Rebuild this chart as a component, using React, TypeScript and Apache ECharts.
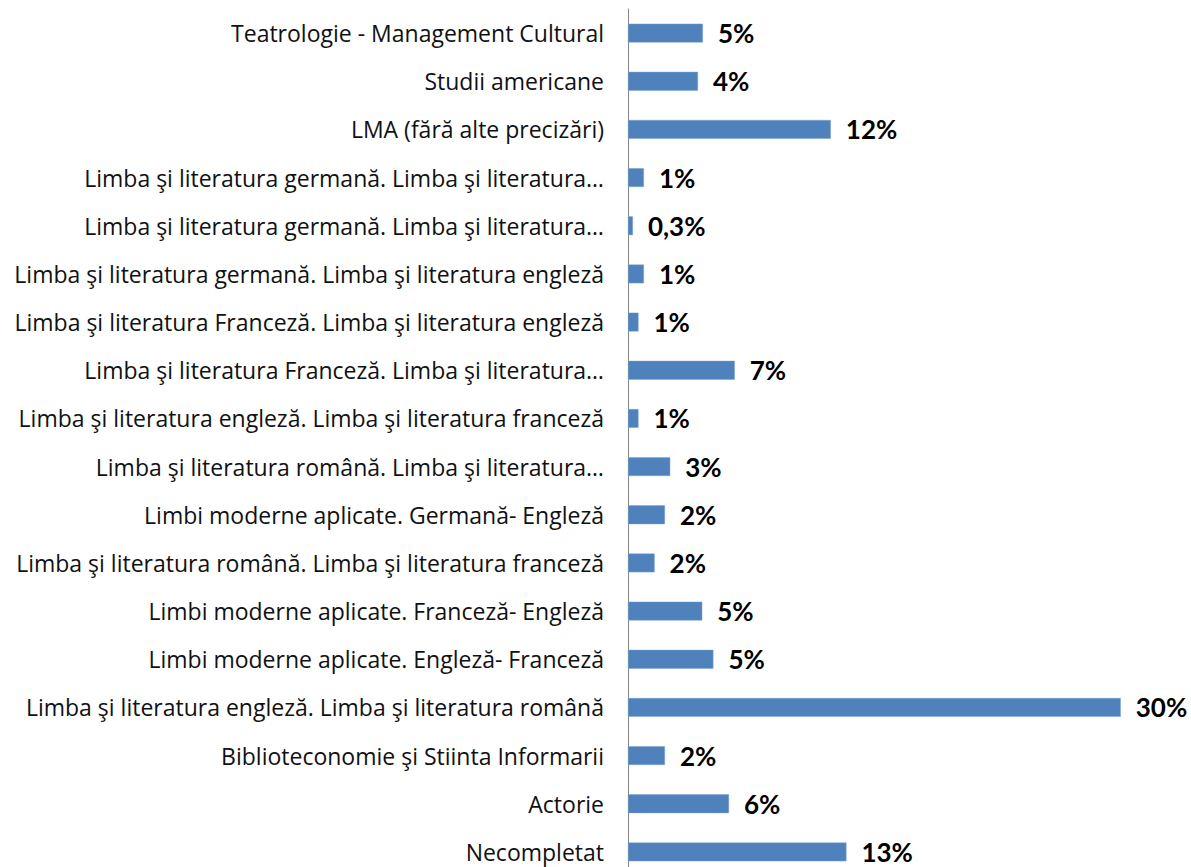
import React, { useEffect, useRef } from "react";
import * as echarts from "echarts";

const categories: string[] = [
  "Teatrologie - Management Cultural",
  "Studii americane",
  "LMA (fără alte precizări)",
  "Limba şi literatura germană. Limba şi literatura…",
  "Limba şi literatura germană. Limba şi literatura…",
  "Limba şi literatura germană. Limba şi literatura engleză",
  "Limba şi literatura Franceză. Limba şi literatura engleză",
  "Limba şi literatura Franceză. Limba şi literatura…",
  "Limba şi literatura engleză. Limba şi literatura franceză",
  "Limba şi literatura română. Limba şi literatura…",
  "Limbi moderne aplicate. Germană- Engleză",
  "Limba şi literatura română. Limba şi literatura franceză",
  "Limbi moderne aplicate. Franceză- Engleză",
  "Limbi moderne aplicate. Engleză- Franceză",
  "Limba şi literatura engleză. Limba şi literatura română",
  "Biblioteconomie şi Stiinta Informarii",
  "Actorie",
  "Necompletat",
];

const values: number[] = [
  4.56, 4.26, 12.35, 0.97, 0.3, 0.97, 0.64, 6.5, 0.64, 2.57, 2.25, 1.62, 4.52,
  5.2, 30, 2.25, 6.15, 13.3,
];

const valueLabels: string[] = [
  "5%", "4%", "12%", "1%", "0,3%", "1%", "1%", "7%", "1%", "3%", "2%", "2%",
  "5%", "5%", "30%", "2%", "6%", "13%",
];

export default function App() {
  const ref = useRef<HTMLDivElement>(null);
  useEffect(() => {
    if (!ref.current) return;
    const chart = echarts.init(ref.current, null, { renderer: "svg" });
    chart.setOption({
      animation: false,
      backgroundColor: "#ffffff",
      grid: { left: 628, width: 542, top: 9, height: 867, containLabel: false },
      xAxis: {
        type: "value",
        min: 0,
        max: 33,
        show: false,
        splitLine: { show: false },
      },
      yAxis: {
        type: "category",
        inverse: true,
        data: categories,
        axisLine: { show: true, lineStyle: { color: "#868686", width: 1 } },
        axisTick: { show: false },
        axisLabel: {
          margin: 24,
          color: "#111111",
          fontFamily: "Open Sans",
          fontSize: 23,
        },
      },
      series: [
        {
          type: "bar",
          data: values,
          barCategoryGap: "61%",
          itemStyle: { color: "#4F81BD", borderColor: "#7DA2CE", borderWidth: 0.5 },
          label: {
            show: true,
            position: "right",
            distance: 15,
            formatter: (p: any) => valueLabels[p.dataIndex],
            color: "#000000",
            fontFamily: "Lato",
            fontWeight: "bold",
            fontSize: 26,
          },
        },
      ],
    });
    return () => chart.dispose();
  }, []);
  return (
    <div
      style={{
        position: "absolute",
        left: 0,
        top: 0,
        width: 1191,
        height: 867,
        overflow: "hidden",
        background: "#ffffff",
      }}
    >
      <div ref={ref} style={{ width: 1191, height: 880 }} />
    </div>
  );
}
